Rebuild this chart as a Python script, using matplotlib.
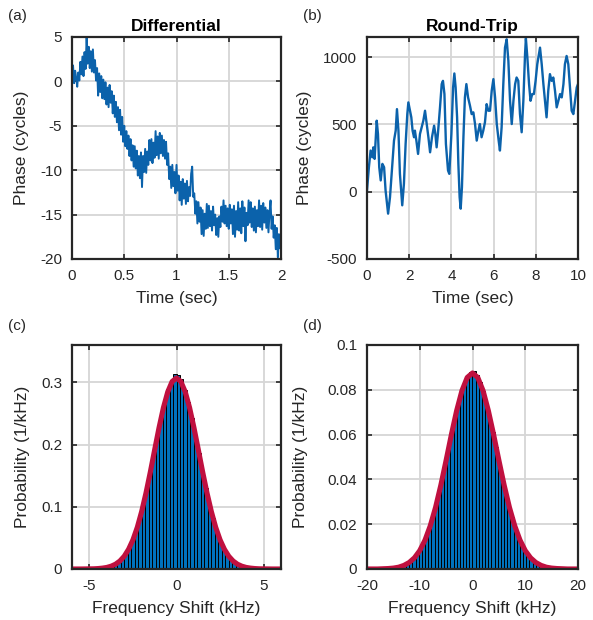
import numpy as np
import matplotlib
matplotlib.use("Agg")
import matplotlib.pyplot as plt

# ---- data ----
# (a) differential phase, sampled every 10 ms from 0 to 2 s
diff_time = np.linspace(0, 2, 201)
diff_phase = [
    0.6, 1.8, -0.2, 1.2, 0.4, -0.6, 1.0, 0.1, 2.2, 0.8,
    2.8, 0.6, 3.3, 1.4, 4.9, 2.0, 3.9, 1.5, 3.4, 1.1,
    3.6, 1.0, 2.4, 0.1, 1.5, -1.6, 0.9, -1.2, 0.6, -1.9,
    0.2, -2.0, -0.1, -2.6, -0.7, -2.9, -0.4, -2.4, -1.1, -3.6,
    -1.6, -4.0, -2.3, -4.6, -2.9, -5.5, -3.2, -6.0, -4.0, -6.8,
    -5.0, -7.3, -5.6, -7.6, -6.1, -8.4, -6.5, -8.9, -7.2, -9.6,
    -7.3, -9.8, -7.8, -10.6, -8.4, -10.9, -8.0, -11.9, -8.4, -10.2,
    -7.6, -10.3, -7.9, -9.4, -6.6, -8.9, -6.5, -9.2, -6.9, -8.6,
    -5.6, -8.3, -6.2, -8.7, -5.8, -8.1, -6.1, -8.4, -6.6, -8.7,
    -6.8, -9.4, -8.1, -11.0, -9.6, -12.0, -9.4, -11.8, -10.2, -12.6,
    -9.4, -12.3, -10.6, -13.4, -11.3, -13.9, -11.0, -13.2, -11.5, -13.8,
    -11.2, -13.5, -11.9, -12.9, -10.4, -9.6, -13.0, -12.6, -14.9, -13.5,
    -16.0, -13.6, -15.8, -14.2, -17.2, -14.5, -17.4, -14.9, -16.6, -13.8,
    -16.5, -14.0, -16.3, -14.6, -16.8, -14.1, -16.2, -15.0, -17.3, -15.4,
    -17.5, -15.2, -16.4, -14.1, -15.8, -13.4, -16.0, -14.0, -16.3, -14.3,
    -16.6, -13.9, -16.0, -14.4, -17.2, -14.0, -17.5, -14.6, -16.7, -13.6,
    -16.8, -14.3, -17.1, -13.5, -16.3, -14.2, -18.0, -14.8, -16.2, -13.4,
    -15.9, -13.6, -16.4, -14.3, -16.8, -14.1, -17.0, -14.5, -16.3, -13.4,
    -16.4, -14.0, -16.7, -13.7, -15.9, -14.2, -16.5, -14.5, -17.0, -14.8,
    -13.4, -16.6, -15.2, -17.6, -16.2, -18.9, -16.5, -19.8, -17.2, -18.8,
    -17.6,
]

# (b) round-trip phase
rt_time = [
    0.0, 0.09, 0.17, 0.25, 0.3, 0.36, 0.46, 0.52, 0.58, 0.65,
    0.73, 0.81, 0.88, 1.0, 1.09, 1.2, 1.28, 1.36, 1.42, 1.49,
    1.56, 1.67, 1.75, 1.83, 1.91, 1.96, 2.04, 2.1, 2.16, 2.23,
    2.27, 2.34, 2.42, 2.51, 2.59, 2.67, 2.75, 2.83, 2.91, 2.99,
    3.08, 3.18, 3.24, 3.3, 3.36, 3.46, 3.54, 3.6, 3.67, 3.74,
    3.84, 3.9, 4.0, 4.08, 4.14, 4.2, 4.27, 4.33, 4.39, 4.44,
    4.5, 4.57, 4.64, 4.71, 4.79, 4.88, 4.96, 5.04, 5.12, 5.2,
    5.28, 5.35, 5.43, 5.51, 5.59, 5.67, 5.75, 5.83, 5.91, 5.99,
    6.07, 6.15, 6.24, 6.3, 6.38, 6.46, 6.54, 6.62, 6.7, 6.78,
    6.86, 6.94, 7.02, 7.09, 7.17, 7.25, 7.33, 7.41, 7.49, 7.53,
    7.6, 7.68, 7.75, 7.83, 7.91, 7.99, 8.07, 8.15, 8.2, 8.28,
    8.36, 8.45, 8.51, 8.59, 8.67, 8.75, 8.83, 8.91, 8.99, 9.07,
    9.15, 9.23, 9.31, 9.38, 9.46, 9.54, 9.62, 9.7, 9.78, 9.86,
    9.94, 10.0,
]
rt_phase = [
    10, 182, 306, 256, 330, 244, 528, 429, 182, 84,
    207, 182, 10, -163, -40, 207, 380, 454, 614, 454,
    133, -101, 59, 355, 577, 664, 602, 553, 454, 405,
    454, 380, 281, 429, 479, 528, 602, 503, 405, 293,
    405, 491, 429, 330, 429, 627, 800, 824, 726, 355,
    158, 133, 429, 775, 879, 775, 553, 207, -40, -126,
    34, 405, 701, 800, 701, 640, 577, 590, 503, 380,
    454, 503, 405, 454, 516, 651, 602, 602, 750, 837,
    701, 503, 380, 306, 479, 800, 1071, 1133, 972, 676,
    503, 676, 800, 849, 824, 577, 442, 676, 1022, 1140,
    997, 800, 676, 726, 726, 824, 948, 1022, 1071, 948,
    800, 651, 553, 750, 874, 824, 849, 750, 627, 676,
    726, 701, 800, 948, 1009, 948, 775, 602, 577, 676,
    775, 800,
]

# (c) differential frequency-shift histogram, 0.2 kHz bins
diff_bins = np.arange(-4.5, 4.51, 0.2)
diff_prob = [
    0.0006, 0.0011, 0.0019, 0.0033, 0.0052, 0.0080, 0.0121, 0.0176, 0.0251, 0.0350,
    0.0478, 0.0635, 0.0828, 0.1052, 0.1305, 0.1585, 0.1880, 0.2160, 0.2440, 0.2690,
    0.2895, 0.3040, 0.3130, 0.3125, 0.3050, 0.2880, 0.2685, 0.2430, 0.2150, 0.1870,
    0.1575, 0.1300, 0.1045, 0.0822, 0.0630, 0.0472, 0.0346, 0.0247, 0.0172, 0.0118,
    0.0078, 0.0050, 0.0032, 0.0019, 0.0011, 0.0006,
]
diff_fit_x = np.arange(-6, 6.01, 0.25)
diff_fit_y = [
    0.0, 0.0, 0.0, 0.0001, 0.0002, 0.0003, 0.0007, 0.0014, 0.0025, 0.0045,
    0.0077, 0.0128, 0.0205, 0.0317, 0.0469, 0.0670, 0.0923, 0.1223, 0.1561, 0.1920,
    0.2273, 0.2593, 0.2848, 0.3013, 0.3070, 0.3013, 0.2848, 0.2593, 0.2273, 0.1920,
    0.1561, 0.1223, 0.0923, 0.0670, 0.0469, 0.0317, 0.0205, 0.0128, 0.0077, 0.0045,
    0.0025, 0.0014, 0.0007, 0.0003, 0.0002, 0.0001, 0.0, 0.0, 0.0,
]

# (d) round-trip frequency-shift histogram, 0.6 kHz bins
rt_bins = np.arange(-15.9, 15.91, 0.6)
rt_prob = [
    0.0002, 0.0003, 0.0005, 0.0008, 0.0012, 0.0017, 0.0025, 0.0035, 0.0048, 0.0065,
    0.0087, 0.0114, 0.0147, 0.0187, 0.0233, 0.0285, 0.0344, 0.0408, 0.0476, 0.0546,
    0.0614, 0.0680, 0.0741, 0.0793, 0.0834, 0.0863, 0.0880, 0.0885, 0.0868, 0.0836,
    0.0795, 0.0742, 0.0681, 0.0613, 0.0545, 0.0475, 0.0407, 0.0343, 0.0284, 0.0232,
    0.0186, 0.0146, 0.0113, 0.0086, 0.0064, 0.0047, 0.0034, 0.0024, 0.0017, 0.0011,
    0.0007, 0.0005, 0.0003, 0.0002,
]
rt_fit_x = np.arange(-20, 20.01, 1.0)
rt_fit_y = [
    0.0, 0.0, 0.0, 0.0001, 0.0002, 0.0004, 0.0008, 0.0016, 0.0029, 0.0050,
    0.0082, 0.0129, 0.0193, 0.0275, 0.0374, 0.0485, 0.0600, 0.0707, 0.0796, 0.0855,
    0.0875, 0.0855, 0.0796, 0.0707, 0.0600, 0.0485, 0.0374, 0.0275, 0.0193, 0.0129,
    0.0082, 0.0050, 0.0029, 0.0016, 0.0008, 0.0004, 0.0002, 0.0001, 0.0, 0.0,
    0.0,
]

# ---- style ----
plt.rcParams["font.family"] = ["Liberation Sans", "DejaVu Sans"]
plt.rcParams["axes.unicode_minus"] = False

blue = "#0b62ab"
barblue = "#0072BD"
red = "#C0103F"
axcol = "#262626"

fig = plt.figure(figsize=(5.93, 6.2), dpi=100)
W, H = 593, 620


def make_ax(x0, y0, x1, y1, ylab_px):
    ax = fig.add_axes([x0 / W, 1 - y1 / H, (x1 - x0) / W, (y1 - y0) / H])
    for s in ax.spines.values():
        s.set_linewidth(1.6)
        s.set_color(axcol)
    ax.tick_params(direction="in", length=3.5, width=1.2, color=axcol,
                   top=True, right=True, labelsize=11, labelcolor=axcol)
    ax.tick_params(axis="x", pad=7)
    ax.tick_params(axis="y", pad=7)
    ax.grid(True, color="#d6d6d6", linewidth=1.3)
    ax.set_axisbelow(True)
    # label anchors in pixels -> axes fraction
    ax.yaxis.set_label_coords((ylab_px - x0) / (x1 - x0), 0.5)
    ax.xaxis.set_label_coords(0.5, -32 / (y1 - y0))
    return ax


lab_kw = dict(fontsize=12.5, color=axcol)
title_kw = dict(fontsize=12.5, fontweight="bold", pad=4)

ax1 = make_ax(72, 37, 281, 259, 29)
ax1.plot(diff_time, diff_phase, color=blue, linewidth=1.4)
ax1.set_xlim(0, 2)
ax1.set_ylim(-20, 5)
ax1.set_xticks([0, 0.5, 1, 1.5, 2])
ax1.set_xticklabels(["0", "0.5", "1", "1.5", "2"])
ax1.set_yticks([-20, -15, -10, -5, 0, 5])
ax1.set_xlabel("Time (sec)", **lab_kw)
ax1.set_ylabel("Phase (cycles)", **lab_kw)
ax1.set_title("Differential", **title_kw)

ax2 = make_ax(367, 37, 578, 259, 312)
ax2.plot(rt_time, rt_phase, color=blue, linewidth=1.7)
ax2.set_xlim(0, 10)
ax2.set_ylim(-500, 1150)
ax2.set_xticks([0, 2, 4, 6, 8, 10])
ax2.set_yticks([-500, 0, 500, 1000])
ax2.set_xlabel("Time (sec)", **lab_kw)
ax2.set_ylabel("Phase (cycles)", **lab_kw)
ax2.set_title("Round-Trip", **title_kw)

ax3 = make_ax(72, 345, 281, 569, 30)
ax3.bar(diff_bins, diff_prob, width=0.2, color=barblue, edgecolor="black", linewidth=0.7)
ax3.plot(diff_fit_x, diff_fit_y, color=red, linewidth=3.7, solid_capstyle="round")
ax3.set_xlim(-6, 6)
ax3.set_ylim(0, 0.36)
ax3.set_xticks([-5, 0, 5])
ax3.set_yticks([0, 0.1, 0.2, 0.3])
ax3.set_yticklabels(["0", "0.1", "0.2", "0.3"])
ax3.set_xlabel("Frequency Shift (kHz)", **lab_kw)
ax3.set_ylabel("Probability (1/kHz)", **lab_kw)

ax4 = make_ax(367, 345, 578, 569, 308)
ax4.bar(rt_bins, rt_prob, width=0.6, color=barblue, edgecolor="black", linewidth=0.7)
ax4.plot(rt_fit_x, rt_fit_y, color=red, linewidth=3.7, solid_capstyle="round")
ax4.set_xlim(-20, 20)
ax4.set_ylim(0, 0.1)
ax4.set_xticks([-20, -10, 0, 10, 20])
ax4.set_yticks([0, 0.02, 0.04, 0.06, 0.08, 0.1])
ax4.set_yticklabels(["0", "0.02", "0.04", "0.06", "0.08", "0.1"])
ax4.set_xlabel("Frequency Shift (kHz)", **lab_kw)
ax4.set_ylabel("Probability (1/kHz)", **lab_kw)

for lab, px, py in [("(a)", 8, 16), ("(b)", 303, 16), ("(c)", 8, 326), ("(d)", 303, 326)]:
    fig.text(px / W, 1 - py / H, lab, fontsize=11, color=axcol, va="center")

fig.savefig("out.png", dpi=100, facecolor="white")
